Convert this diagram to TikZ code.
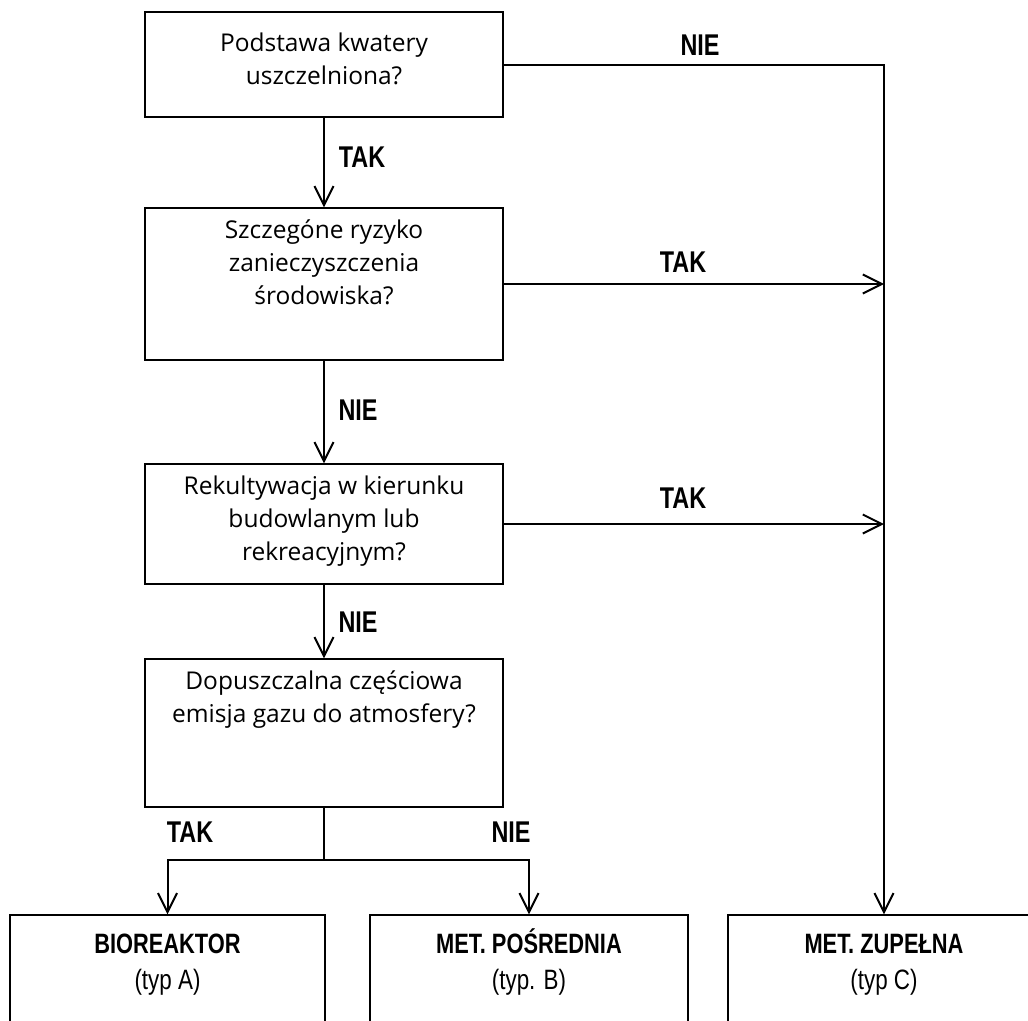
\documentclass[tikz,border=0pt]{standalone}
\usepackage{fontspec}
\setmainfont{Open Sans}
\newfontfamily\condbf{Liberation Sans Bold}[FakeStretch=0.78]
\newfontfamily\condrm{Liberation Sans}[FakeStretch=0.8]
\usetikzlibrary{arrows.meta}

\tikzset{
  qbox/.style={draw, line width=1.4pt, minimum width=358pt, inner sep=0pt},
  qtext/.style={anchor=north, align=center, inner sep=0pt, font=\fontsize{24.5}{33}\selectfont},
  rbox/.style={draw, line width=1.4pt, inner sep=0pt},
  rtext/.style={anchor=north, align=center, inner sep=0pt, font=\fontsize{28}{36}\selectfont},
  line/.style={line width=2pt},
  arr/.style={line, -{Straight Barb[length=19pt,width=19pt]}},
  lbl/.style={font=\condbf\fontsize{30}{32}\selectfont},
}

\begin{document}
\begin{tikzpicture}[x=1pt,y=-1pt]
  \useasboundingbox (0,0) rectangle (1028,1020);
  \clip (0,0) rectangle (1028,1020);

  % Questions
  \node[qbox, minimum height=105pt] (q1) at (324,64.5) {};
  \node[qtext] (q1t) at ([yshift=-21pt]q1.north) {Podstawa kwatery\\uszczelniona?};

  \node[qbox, minimum height=152pt] (q2) at (324,284) {};
  \node[qtext] (q2t) at ([yshift=-12pt]q2.north) {Szczegóne ryzyko\\zanieczyszczenia\\środowiska?};

  \node[qbox, minimum height=120pt] (q3) at (324,524) {};
  \node[qtext] (q3t) at ([yshift=-12pt]q3.north) {Rekultywacja w kierunku\\budowlanym lub\\rekreacyjnym?};

  \node[qbox, minimum height=148pt] (q4) at (324,733) {};
  \node[qtext] (q4t) at ([yshift=-12pt]q4.north) {Dopuszczalna częściowa\\emisja gazu do atmosfery?};

  % Results
  \node[rbox, minimum width=315pt, minimum height=130pt] (ra) at (167.5,980) {};
  \node[rbox, minimum width=318pt, minimum height=130pt] (rb) at (529,980) {};
  \node[rbox, minimum width=312pt, minimum height=130pt] (rc) at (884,980) {};
  \node[rtext] (rat) at ([yshift=-14pt]ra.north) {{\condbf\vphantom{Ś}BIOREAKTOR}\\{\condrm (typ A)}};
  \node[rtext] (rbt) at ([yshift=-14pt]rb.north) {{\condbf MET. POŚREDNIA}\\{\condrm (typ. B)}};
  \node[rtext] (rct) at ([yshift=-14pt]rc.north) {{\condbf\vphantom{Ś}MET. ZUPEŁNA}\\{\condrm (typ C)}};

  % Connectors
  \draw[arr] (q1.east) -| (rc.north);
  \draw[arr] (q1.south) -- (q2.north);
  \draw[arr] (q2.south) -- (q3.north);
  \draw[arr] (q3.south) -- (q4.north);
  \draw[arr] (q2.east) -- (q2.east -| rc.north);
  \draw[arr] (q3.east) -- (q3.east -| rc.north);
  \coordinate (split) at (324,860);
  \draw[line] (q4.south) -- (split);
  \draw[arr] (split) -| (ra.north);
  \draw[arr] (split) -| (rb.north);

  % Labels
  \node[lbl] (l1) at (700,45) {NIE};
  \node[lbl] (l2) at (362,157) {TAK};
  \node[lbl] (l3) at (683,262) {TAK};
  \node[lbl] (l4) at (358,410) {NIE};
  \node[lbl] (l5) at (683,498) {TAK};
  \node[lbl] (l6) at (358,622) {NIE};
  \node[lbl] (l7) at (190,832) {TAK};
  \node[lbl] (l8) at (511,832) {NIE};
\end{tikzpicture}
\end{document}
